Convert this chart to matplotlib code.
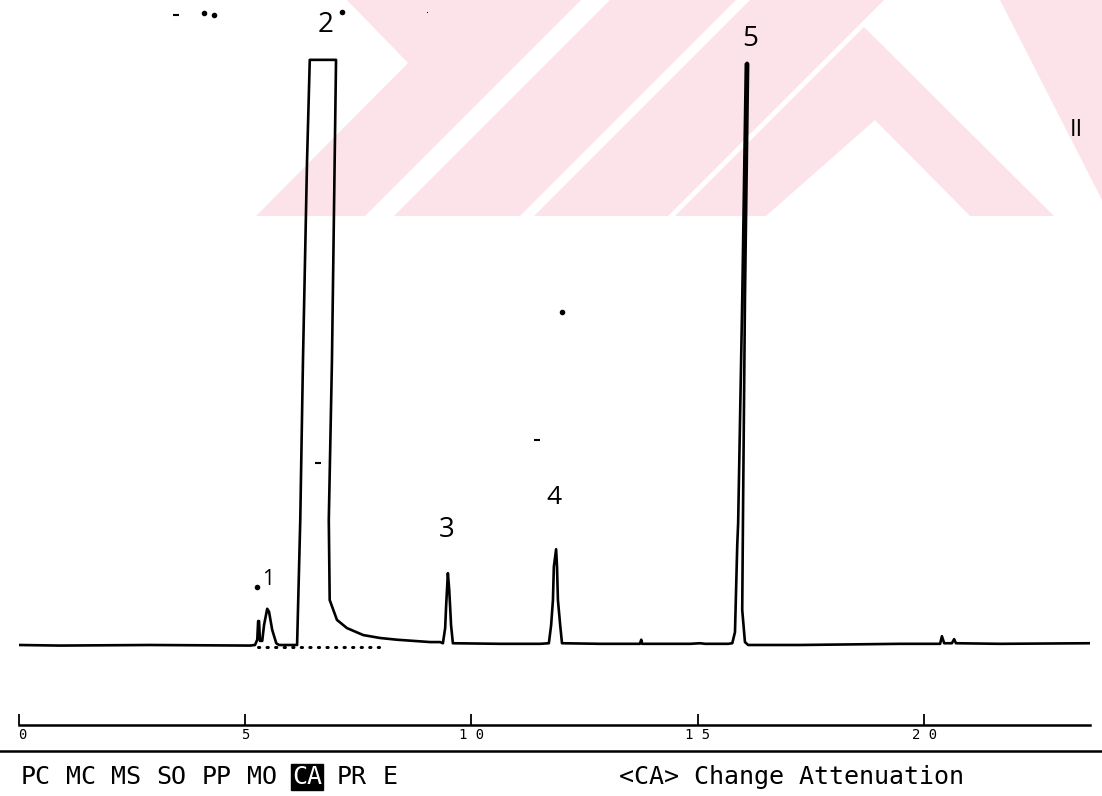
import matplotlib
matplotlib.use("Agg")
import matplotlib.pyplot as plt
from matplotlib.patches import Polygon

# recorder trace: time in min, signal in arbitrary units
time_min = [0.0, 0.91, 2.90, 5.11, 5.22, 5.27, 5.29, 5.31, 5.33, 5.38,
            5.42, 5.49, 5.53, 5.60, 5.69, 5.75, 6.15,
            6.22, 6.28, 6.37, 6.43, 7.01, 6.92, 6.85, 6.87, 7.03, 7.25, 7.61, 7.98, 8.36, 9.09,
            9.31, 9.37, 9.42, 9.44, 9.46, 9.48, 9.51, 9.53, 9.55, 9.59,
            10.63, 11.52, 11.71, 11.76, 11.80, 11.82, 11.87, 11.89, 11.91, 11.96, 12.00,
            12.84, 13.72, 13.75, 13.77, 14.83, 15.05, 15.16, 15.67,
            15.76, 15.82, 15.87, 15.89, 15.98, 16.06, 16.09, 16.11, 16.04, 16.00, 15.98, 16.04, 16.11,
            17.26, 19.47, 20.35, 20.39, 20.44, 20.61, 20.66, 20.70, 21.67, 23.66]
signal = [0.0, -0.1, 0.0, -0.1, 0.0, 0.9, 4.1, 4.1, 0.7, 0.7,
          3.4, 6.2, 5.7, 2.6, 0.3, 0.0, 0.0,
          21.4, 48.8, 83.0, 100.2, 100.2, 48.8, 21.4, 7.7, 4.3, 2.9, 1.7, 1.2, 0.9, 0.5,
          0.5, 0.3, 2.9, 6.5, 9.4, 12.3, 9.4, 6.5, 3.4, 0.3,
          0.2, 0.2, 0.3, 3.4, 7.7, 13.4, 16.4, 13.4, 7.7, 3.4, 0.3,
          0.2, 0.2, 0.9, 0.2, 0.2, 0.3, 0.2, 0.2,
          0.3, 2.2, 17.1, 20.9, 59.1, 99.5, 99.7, 99.5, 59.1, 24.8, 6.0, 0.5, 0.0,
          0.0, 0.2, 0.2, 1.5, 0.3, 0.3, 1.0, 0.3, 0.2, 0.3]

# dotted integration baseline under peaks 1-2
dotted_t = [5.29, 8.10]
dotted_y = [-0.3, -0.3]

peak_names = ["1", "2", "3", "4", "5"]
peak_label_t = [5.51, 6.77, 9.46, 11.82, 16.15]
peak_label_y = [11.3, 106.2, 19.7, 25.3, 103.8]
peak_label_size = [15, 20, 20, 19, 20]

# scan specks
speck_t = [3.48, 4.09, 4.32, 7.14, 9.02, 12.00, 11.45, 6.61, 5.27]
speck_y = [107.9, 108.2, 107.9, 108.4, 108.2, 57.0, 35.1, 31.2, 9.9]
speck_marker = ["_", ".", ".", ".", ",", ".", "_", "_", "."]

tick_pos = [0, 5, 10, 15, 20]
tick_labels = ["0", "5", "1 0", "1 5", "2 0"]
menu_items = ["PC", "MC", "MS", "SO", "PP", "MO", "CA", "PR", "E"]
active_item = "CA"
status_text = "<CA> Change Attenuation"

W, H = 1102, 796
fig = plt.figure(figsize=(W / 100, H / 100), dpi=100)

# watermark in the background (pixel coords)
bg = fig.add_axes([0, 0, 1, 1], zorder=0)
bg.set_xlim(0, W)
bg.set_ylim(H, 0)
bg.axis("off")
pink = "#fce3e9"
shapes = [
    [(256, 216), (365, 216), (581, 0), (347, 0), (408, 63)],
    [(394, 216), (520, 216), (736, 0), (610, 0)],
    [(534, 216), (668, 216), (884, 0), (750, 0)],
    [(675, 216), (766, 216), (875, 120), (970, 216), (1054, 216), (864, 27)],
    [(1000, 0), (1102, 0), (1102, 200)],
]
for s in shapes:
    bg.add_patch(Polygon(s, closed=True, facecolor=pink, edgecolor="none"))

# chromatogram
ax = fig.add_axes([18.6 / W, 96 / H, 1071.4 / W, 700 / H], zorder=1)
ax.patch.set_alpha(0)
ax.plot(time_min, signal, color="black", lw=1.9, solid_joinstyle="round")
ax.plot(dotted_t, dotted_y, color="black", lw=2.2, linestyle=(0, (0.4, 2.4)),
        dash_capstyle="round")
for name, t, y, fs in zip(peak_names, peak_label_t, peak_label_y, peak_label_size):
    ax.text(t, y, name, fontsize=fs, family="Open Sans", ha="center", va="center")
for t, y, m in zip(speck_t, speck_y, speck_marker):
    ax.plot(t, y, marker=m, color="black", ms=5, mew=1.5)
ax.text(23.37, 88.2, "II", fontsize=17, family="Open Sans", ha="center", va="center")
ax.set_xlim(0, 23.66)
ax.set_ylim(-9.42, 110.45)
ax.axis("off")

# time scale
ax2 = fig.add_axes([18.6 / W, 71 / H, 1071.4 / W, 0.02], zorder=1)
ax2.patch.set_alpha(0)
ax2.set_xlim(0, 23.66)
ax2.set_yticks([])
for side in ["top", "left", "right"]:
    ax2.spines[side].set_visible(False)
ax2.spines["bottom"].set_linewidth(1.8)
ax2.set_xticks(tick_pos)
ax2.set_xticklabels(tick_labels, family="DejaVu Sans Mono", fontsize=10)
ax2.tick_params(axis="x", direction="in", length=8, width=1.3, pad=2)
ax2.get_xticklabels()[0].set_ha("left")

# menu line
fig.add_artist(plt.Line2D([0, 1], [1 - 751 / H, 1 - 751 / H], color="black", lw=1.8,
                          transform=fig.transFigure))

ymenu = 1 - 777 / H
menu_line = " ".join(menu_items)
col = 0
for item in menu_items:
    x = (21 + col * 15.05) / W
    if item == active_item:
        fig.text(x, ymenu, item, family="DejaVu Sans Mono", fontsize=18, color="white",
                 va="center", ha="left",
                 bbox=dict(facecolor="black", edgecolor="black", pad=0.5))
    else:
        fig.text(x, ymenu, item, family="DejaVu Sans Mono", fontsize=18,
                 va="center", ha="left")
    col += len(item) + 1
fig.text(619 / W, ymenu, status_text, family="DejaVu Sans Mono", fontsize=18,
         va="center", ha="left")

fig.savefig("out.png", dpi=100)
